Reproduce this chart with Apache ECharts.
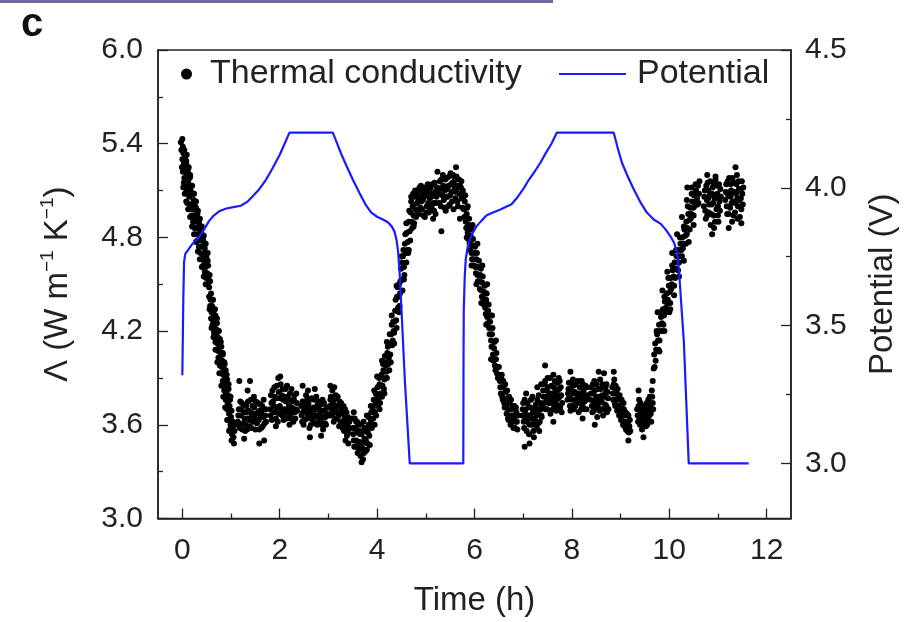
<!DOCTYPE html>
<html>
<head>
<meta charset="utf-8">
<script src="https://cdn.jsdelivr.net/npm/echarts@6/dist/echarts.min.js"></script>
<style>
  html, body { margin: 0; padding: 0; background: #fff; }
  #chart { width: 916px; height: 622px; }
</style>
</head>
<body>
<div id="chart"></div>
<script>
  // thermal conductivity, [time h, W m-1 K-1]
  const fallA = [[-0.03,5.41],[-0.02,5.36],[0.00,5.43],[0.00,5.30],[0.01,5.22],[0.02,5.34],[0.03,5.27],[0.04,5.18],[0.05,5.31],[0.06,5.24],[0.07,5.14],[0.08,5.27],[0.09,5.20],[0.10,5.10],[0.11,5.22],[0.12,5.15],[0.14,5.06],[0.15,5.18],[0.17,5.10],[0.18,5.01],[0.20,5.08],[0.21,4.98],[0.23,5.04],[0.24,4.93],[0.26,5.00],[0.27,4.90],[0.29,4.96],[0.30,4.86],[0.32,4.92],[0.33,4.82],[0.35,4.88],[0.36,4.78],[0.38,4.84],[0.39,4.74],[0.41,4.79],[0.42,4.69],[0.44,4.75],[0.45,4.65],[0.47,4.70],[0.48,4.61],[0.50,4.66],[0.51,4.57],[0.53,4.62],[0.54,4.53],[0.56,4.56],[0.02,5.12],[0.13,5.25],
    [-0.01,5.25],[0.01,5.38],[0.03,5.15],[0.04,5.36],[0.05,5.08],[0.06,5.30],[0.08,5.12],[0.09,5.33],[0.10,5.02],[0.12,5.08],[0.13,4.98],[0.16,5.00],[0.16,5.20],[0.19,4.94],[0.19,5.13],[0.22,4.90],[0.22,5.08],[0.25,4.86],[0.25,5.03],[0.28,4.82],[0.28,4.99],[0.31,4.78],[0.31,4.95],[0.34,4.74],[0.34,4.90],[0.37,4.70],[0.37,4.86],[0.40,4.66],[0.40,4.82],[0.43,4.62],[0.43,4.78],[0.46,4.58],[0.46,4.73],[0.49,4.54],[0.49,4.68],[0.52,4.50],[0.52,4.65],[0.55,4.48],[0.57,4.52],
    [0.08,5.29],[0.12,5.24],[0.16,5.19],[0.20,5.13],[0.24,5.08],[0.28,5.03],[0.32,4.97],[0.36,4.92],[0.40,4.87],[0.44,4.81],[0.48,4.76],[0.52,4.70],[0.08,5.03],[0.12,4.98],[0.16,4.93],[0.20,4.87],[0.24,4.82],[0.28,4.77],[0.32,4.71],[0.36,4.66],[0.40,4.61],[0.44,4.55],[0.48,4.50]];
  const fallB = [[0.55,4.42],[0.57,4.36],[0.58,4.40],[0.60,4.32],[0.61,4.36],[0.63,4.27],[0.64,4.31],[0.66,4.22],[0.67,4.26],[0.69,4.17],[0.70,4.21],[0.72,4.12],[0.73,4.16],[0.75,4.07],[0.76,4.11],[0.78,4.02],[0.79,4.06],[0.81,3.97],[0.82,4.01],[0.84,3.92],[0.85,3.96],[0.87,3.86],[0.88,3.91],[0.90,3.80],[0.91,3.85],[0.93,3.74],[0.94,3.79],[0.96,3.67],[0.97,3.72],[0.99,3.60],[1.00,3.65],[1.02,3.54],[1.03,3.58],[1.05,3.52],[1.07,3.56],[1.09,3.60],
    [0.56,4.34],[0.59,4.28],[0.59,4.44],[0.62,4.24],[0.62,4.40],[0.65,4.19],[0.65,4.34],[0.68,4.13],[0.68,4.30],[0.71,4.08],[0.71,4.25],[0.74,4.03],[0.74,4.20],[0.77,3.98],[0.77,4.15],[0.80,3.93],[0.80,4.10],[0.83,3.88],[0.83,4.05],[0.86,3.82],[0.86,4.00],[0.89,3.76],[0.89,3.95],[0.92,3.70],[0.92,3.89],[0.95,3.63],[0.95,3.83],[0.98,3.57],[0.98,3.76],[1.01,3.50],[1.01,3.69],[1.04,3.62],[1.06,3.48],
    [0.60,4.22],[0.64,4.16],[0.68,4.08],[0.72,4.00],[0.76,3.93],[0.80,3.85],[0.84,3.78],[0.88,3.71],[0.92,3.63],[0.96,3.56],[0.63,4.40],[0.67,4.34],[0.71,4.28],[0.75,4.20],[0.79,4.13],[0.83,4.06],[0.87,3.99],[0.91,3.92],[0.95,3.86],[0.99,3.78]];
  const lowA = [
    [1.14,3.62],[1.16,3.70],[1.18,3.58],[1.20,3.66],[1.22,3.74],[1.25,3.61],[1.27,3.68],[1.29,3.56],[1.31,3.72],[1.34,3.64],[1.36,3.69],[1.38,3.59],[1.41,3.76],[1.43,3.66],[1.45,3.62],[1.48,3.71],[1.50,3.57],[1.52,3.67],[1.55,3.74],[1.57,3.63],[1.59,3.69],[1.62,3.58],[1.64,3.72],[1.66,3.65],[1.69,3.61],[1.71,3.70],[1.19,3.75],[1.33,3.57],[1.47,3.78],[1.61,3.66],
    [1.15,3.66],[1.17,3.60],[1.21,3.70],[1.23,3.57],[1.26,3.73],[1.28,3.64],[1.30,3.60],[1.32,3.68],[1.35,3.75],[1.37,3.63],[1.40,3.68],[1.42,3.58],[1.44,3.72],[1.46,3.67],[1.49,3.64],[1.51,3.75],[1.53,3.61],[1.56,3.68],[1.58,3.57],[1.60,3.73],[1.63,3.69],[1.65,3.59],[1.67,3.76],[1.70,3.66],[1.72,3.62],
    [1.17,3.88],[1.34,3.82],[1.39,3.88],[1.27,3.51],[1.58,3.48],[1.68,3.50],
    [1.80,3.70],[1.82,3.79],[1.84,3.63],[1.86,3.75],[1.89,3.84],[1.91,3.68],[1.93,3.77],[1.96,3.62],[1.98,3.81],[2.00,3.72],[2.02,3.86],[2.05,3.66],[2.07,3.76],[2.09,3.70],[2.12,3.83],[2.14,3.64],[2.16,3.78],[2.19,3.72],[2.21,3.80],[2.23,3.67],[2.26,3.75],[2.28,3.62],[2.30,3.79],[2.33,3.70],[2.35,3.74],[1.88,3.72],[2.04,3.79],[2.18,3.66],[2.31,3.68],
    [1.81,3.66],[1.83,3.74],[1.85,3.82],[1.87,3.68],[1.90,3.78],[1.92,3.64],[1.94,3.85],[1.95,3.71],[1.99,3.67],[2.01,3.77],[2.03,3.70],[2.06,3.83],[2.08,3.63],[2.10,3.78],[2.11,3.68],[2.13,3.75],[2.15,3.85],[2.17,3.70],[2.20,3.76],[2.22,3.64],[2.24,3.83],[2.25,3.71],[2.27,3.68],[2.29,3.76],[2.32,3.64],[2.34,3.80],[2.36,3.69],
    [1.97,3.90],[2.01,3.91],[1.92,3.59],[2.20,3.60],
    [2.45,3.66],[2.47,3.75],[2.49,3.60],[2.52,3.71],[2.54,3.79],[2.56,3.64],[2.59,3.73],[2.61,3.58],[2.63,3.68],[2.66,3.77],[2.68,3.62],[2.70,3.71],[2.73,3.66],[2.75,3.78],[2.77,3.60],[2.80,3.70],[2.82,3.75],[2.84,3.63],[2.87,3.69],[2.89,3.57],[2.91,3.74],[2.94,3.65],[2.96,3.71],[2.50,3.69],[2.65,3.64],[2.79,3.66],[2.93,3.61],
    [2.44,3.72],[2.46,3.62],[2.48,3.68],[2.51,3.63],[2.53,3.74],[2.55,3.69],[2.57,3.77],[2.58,3.66],[2.60,3.70],[2.62,3.76],[2.64,3.60],[2.67,3.70],[2.69,3.67],[2.71,3.76],[2.72,3.61],[2.74,3.70],[2.76,3.65],[2.78,3.73],[2.81,3.62],[2.83,3.68],[2.85,3.73],[2.86,3.60],[2.88,3.76],[2.90,3.65],[2.92,3.69],[2.95,3.60],[2.97,3.67],
    [2.47,3.85],[2.58,3.82],[2.72,3.83],[2.62,3.52],[2.85,3.53],
    [3.03,3.72],[3.05,3.78],[3.07,3.66],[3.09,3.74],[3.11,3.62],[3.13,3.70],[3.15,3.79],[3.18,3.64],[3.20,3.72],[3.22,3.59],[3.24,3.68],[3.26,3.74],[3.28,3.61],[3.30,3.67],[3.32,3.56],[3.34,3.70],[3.36,3.62],[3.38,3.53],[3.40,3.65],[3.42,3.58],[3.12,3.84],[3.35,3.50],[3.17,3.68],
    [3.02,3.66],[3.04,3.76],[3.06,3.70],[3.08,3.82],[3.10,3.68],[3.12,3.76],[3.14,3.64],[3.16,3.72],[3.19,3.78],[3.21,3.66],[3.23,3.75],[3.25,3.62],[3.27,3.70],[3.29,3.58],[3.31,3.72],[3.33,3.64],[3.35,3.58],[3.37,3.68],[3.39,3.60],[3.41,3.55],[3.43,3.62],
    [3.04,3.85],[3.41,3.48],
    [3.50,3.58],[3.52,3.50],[3.54,3.64],[3.56,3.46],[3.58,3.55],[3.60,3.42],[3.62,3.60],[3.64,3.49],[3.66,3.40],[3.68,3.54],[3.70,3.45],[3.72,3.62],[3.74,3.51],[3.76,3.43],[3.78,3.57],[3.80,3.48],[3.82,3.65],[3.84,3.53],[3.86,3.60],[3.88,3.68],[3.63,3.56],[3.71,3.38],[3.57,3.62],[3.79,3.66],
    [3.49,3.64],[3.51,3.54],[3.53,3.46],[3.55,3.58],[3.57,3.50],[3.59,3.62],[3.61,3.47],[3.63,3.44],[3.65,3.54],[3.67,3.60],[3.69,3.48],[3.71,3.56],[3.73,3.42],[3.75,3.58],[3.77,3.50],[3.79,3.44],[3.81,3.55],[3.83,3.60],[3.85,3.47],[3.87,3.63],[3.89,3.58],
    [3.52,3.68],[3.68,3.36],[3.87,3.72]
  ];
  const riseA = [[3.91,3.70],[3.93,3.76],[3.95,3.68],[3.97,3.80],[3.99,3.74],[4.01,3.84],[4.03,3.77],[4.05,3.86],[4.07,3.80],[4.09,3.92],[4.11,3.85],[4.13,3.95],[4.15,3.89],[4.17,4.00],[4.19,3.94],[4.21,4.06],[4.23,3.99],[4.25,4.12],[4.27,4.05],[4.29,4.18],[4.31,4.11],[4.33,4.26],[4.35,4.19],[4.37,4.33],[4.39,4.27],[4.41,4.42],[4.43,4.35],[4.45,4.50],[4.47,4.44],[4.49,4.60],[4.51,4.53],[4.53,4.68],[4.55,4.61],[4.57,4.76],[4.59,4.70],[4.61,4.83],[4.63,4.77],[4.65,4.90],[4.67,4.84],[4.69,4.96],[4.71,4.90],[4.73,5.00],[4.75,4.94],[4.77,5.06],[4.79,4.98],[4.02,3.72],[4.18,3.90],[4.34,4.20],[4.48,4.52],[4.62,4.72],
    [3.92,3.64],[3.94,3.82],[3.96,3.73],[3.98,3.66],[4.00,3.79],[4.04,3.90],[4.06,3.74],[4.08,3.85],[4.10,3.78],[4.12,3.99],[4.14,3.83],[4.16,4.04],[4.18,3.98],[4.20,3.90],[4.22,4.10],[4.24,4.03],[4.26,4.18],[4.28,4.00],[4.30,4.24],[4.32,4.14],[4.36,4.26],[4.38,4.40],[4.40,4.22],[4.42,4.48],[4.44,4.42],[4.46,4.36],[4.50,4.64],[4.52,4.46],[4.54,4.72],[4.56,4.56],[4.58,4.82],[4.60,4.64],[4.64,4.70],[4.66,4.97],[4.68,4.78],[4.70,5.03],[4.72,4.86],[4.74,5.08],[4.76,4.89],[4.78,5.10],[4.80,4.93],
    [3.95,3.60],[4.05,3.70],[4.15,3.80],[4.25,3.95],[4.35,4.12],[4.45,4.32],[4.55,4.53],[4.65,4.72],[4.75,4.87],[4.00,3.91],[4.10,4.01],[4.20,4.13],[4.30,4.30],[4.40,4.49],[4.50,4.68],[4.60,4.89],[4.70,5.06]];
  const highA = [
    [4.82,5.02],[4.84,5.10],[4.86,4.95],[4.88,5.06],[4.90,5.13],[4.92,4.98],[4.94,5.04],[4.96,5.11],[4.98,4.93],[5.00,5.07],[5.02,5.00],[5.04,5.14],[5.06,4.96],[5.08,5.05],[5.10,5.12],[5.12,4.99],[5.14,5.08],[5.16,5.02],[5.18,5.15],[5.20,4.95],[5.22,5.06],[4.91,5.03],[5.05,5.02],[5.15,4.92],
    [4.81,5.08],[4.83,4.96],[4.85,5.04],[4.87,5.12],[4.89,4.99],[4.93,5.09],[4.95,4.94],[4.97,5.06],[4.99,5.12],[5.01,4.96],[5.03,5.09],[5.07,5.11],[5.09,4.97],[5.11,5.06],[5.13,5.14],[5.17,4.97],[5.19,5.09],[5.21,5.02],[5.23,5.12],
    [5.27,5.08],[5.29,5.16],[5.31,5.00],[5.33,5.12],[5.35,5.20],[5.37,5.04],[5.39,5.10],[5.41,4.97],[5.43,5.18],[5.45,5.06],[5.47,5.13],[5.49,5.01],[5.51,5.21],[5.53,5.09],[5.55,5.15],[5.57,4.98],[5.59,5.11],[5.61,5.05],[5.63,5.19],[5.65,5.03],[5.67,5.12],[5.69,5.08],[5.34,5.07],[5.58,5.14],
    [5.28,5.02],[5.30,5.11],[5.32,5.17],[5.36,5.13],[5.38,4.99],[5.40,5.17],[5.42,5.06],[5.44,5.11],[5.46,5.00],[5.48,5.19],[5.50,5.07],[5.52,5.14],[5.54,5.03],[5.56,5.20],[5.60,5.17],[5.62,5.09],[5.64,5.13],[5.66,5.00],[5.68,5.17],[5.70,5.13],
    [5.32,4.84],[5.24,5.22],[5.62,5.25],[5.70,4.92]
  ];
  const fallC = [[5.72,5.12],[5.74,5.05],[5.76,5.10],[5.78,4.98],[5.80,5.03],[5.82,4.90],[5.84,4.95],[5.86,4.83],[5.88,4.88],[5.90,4.76],[5.92,4.81],[5.94,4.70],[5.96,4.75],[5.98,4.66],[6.00,4.70],[6.02,4.61],[6.04,4.66],[6.06,4.56],[6.08,4.61],[6.10,4.52],[6.12,4.56],[6.14,4.46],[6.16,4.51],[6.18,4.41],[6.20,4.45],[6.22,4.35],[6.24,4.40],[6.26,4.29],[6.28,4.33],[6.30,4.22],[6.32,4.26],[6.34,4.14],[6.36,4.18],[6.38,4.05],[6.40,4.09],[6.42,3.98],[6.44,4.02],[6.46,3.93],
    [5.73,5.16],[5.75,4.99],[5.77,5.06],[5.79,4.93],[5.81,5.07],[5.83,4.86],[5.85,4.99],[5.87,4.79],[5.89,4.92],[5.91,4.72],[5.93,4.85],[5.95,4.66],[5.97,4.79],[5.99,4.62],[6.01,4.74],[6.03,4.57],[6.05,4.70],[6.07,4.52],[6.09,4.65],[6.11,4.47],[6.13,4.60],[6.15,4.42],[6.17,4.55],[6.19,4.37],[6.21,4.49],[6.23,4.31],[6.25,4.44],[6.27,4.25],[6.29,4.37],[6.31,4.18],[6.33,4.30],[6.35,4.10],[6.37,4.22],[6.39,4.01],[6.41,4.13],[6.43,3.95],[6.45,4.06],[6.48,3.90],[6.50,3.97],
    [5.84,4.80],[5.94,4.62],[6.04,4.50],[6.14,4.38],[6.24,4.24],[6.34,4.02],[5.86,5.00],[5.96,4.88],[6.06,4.76],[6.16,4.62],[6.26,4.50],[6.36,4.30],[6.44,4.14]];
  const lowB = [
    [6.52,3.88],[6.54,3.80],[6.56,3.92],[6.58,3.76],[6.60,3.85],[6.62,3.71],[6.64,3.81],[6.66,3.67],[6.68,3.77],[6.70,3.63],[6.72,3.74],[6.74,3.60],[6.76,3.70],[6.78,3.66],[6.80,3.58],[6.82,3.72],[6.84,3.62],[6.86,3.68],[6.88,3.57],[6.57,3.84],[6.69,3.70],[6.83,3.66],
    [6.53,3.84],[6.55,3.90],[6.57,3.78],[6.59,3.88],[6.61,3.74],[6.63,3.86],[6.65,3.72],[6.67,3.82],[6.69,3.64],[6.71,3.78],[6.73,3.66],[6.75,3.76],[6.77,3.62],[6.79,3.72],[6.81,3.64],[6.83,3.58],[6.85,3.71],[6.87,3.62],[6.89,3.66],
    [6.98,3.66],[7.00,3.74],[7.02,3.58],[7.04,3.69],[7.06,3.80],[7.08,3.62],[7.10,3.71],[7.12,3.54],[7.14,3.66],[7.16,3.76],[7.18,3.60],[7.20,3.68],[7.22,3.52],[7.24,3.64],[7.26,3.73],[7.28,3.58],[7.30,3.67],[7.32,3.79],[7.34,3.62],[7.36,3.70],[7.38,3.65],[7.07,3.66],[7.21,3.61],[7.33,3.70],
    [6.99,3.70],[7.01,3.62],[7.03,3.76],[7.05,3.64],[7.07,3.56],[7.09,3.74],[7.11,3.66],[7.13,3.60],[7.15,3.71],[7.17,3.64],[7.19,3.78],[7.21,3.56],[7.23,3.70],[7.25,3.60],[7.27,3.66],[7.29,3.76],[7.31,3.61],[7.33,3.56],[7.35,3.74],[7.37,3.66],[7.39,3.72],
    [7.03,3.46],[7.13,3.48],[7.29,3.84],[7.37,3.86],
    [7.42,3.78],[7.44,3.86],[7.46,3.70],[7.48,3.82],[7.50,3.90],[7.52,3.74],[7.54,3.80],[7.56,3.67],[7.58,3.85],[7.60,3.76],[7.62,3.92],[7.64,3.72],[7.66,3.81],[7.68,3.69],[7.70,3.87],[7.72,3.77],[7.74,3.83],[7.76,3.71],[7.78,3.79],[7.80,3.74],[7.49,3.76],[7.63,3.84],[7.75,3.88],
    [7.41,3.82],[7.43,3.74],[7.45,3.88],[7.47,3.78],[7.49,3.70],[7.51,3.84],[7.53,3.78],[7.55,3.90],[7.57,3.74],[7.59,3.80],[7.61,3.70],[7.63,3.78],[7.65,3.88],[7.67,3.75],[7.69,3.80],[7.71,3.72],[7.73,3.90],[7.75,3.78],[7.77,3.84],[7.79,3.68],
    [7.45,3.98],[7.62,3.62],
    [7.92,3.80],[7.94,3.87],[7.96,3.72],[7.98,3.83],[8.00,3.76],[8.02,3.89],[8.04,3.70],[8.06,3.81],[8.08,3.86],[8.10,3.74],[8.12,3.79],[8.14,3.68],[8.16,3.84],[8.18,3.77],[8.20,3.88],[8.22,3.72],[8.24,3.82],[8.26,3.75],[8.28,3.85],[8.30,3.70],[8.32,3.79],[8.03,3.80],[8.17,3.74],
    [7.91,3.76],[7.93,3.83],[7.95,3.78],[7.97,3.69],[7.99,3.87],[8.01,3.72],[8.03,3.85],[8.05,3.76],[8.07,3.72],[8.09,3.80],[8.11,3.88],[8.13,3.76],[8.15,3.80],[8.17,3.88],[8.19,3.70],[8.21,3.80],[8.23,3.86],[8.25,3.70],[8.27,3.79],[8.29,3.76],[8.31,3.84],
    [7.97,3.94],[8.22,3.64],
    [8.38,3.76],[8.40,3.84],[8.42,3.68],[8.44,3.80],[8.46,3.88],[8.48,3.72],[8.50,3.78],[8.52,3.65],[8.54,3.83],[8.56,3.74],[8.58,3.89],[8.60,3.70],[8.62,3.79],[8.64,3.66],[8.66,3.85],[8.68,3.73],[8.70,3.81],[8.72,3.68],[8.74,3.77],[8.45,3.75],[8.59,3.77],[8.71,3.86],
    [8.39,3.80],[8.41,3.72],[8.43,3.86],[8.45,3.69],[8.47,3.82],[8.49,3.76],[8.51,3.86],[8.53,3.71],[8.55,3.78],[8.57,3.69],[8.59,3.83],[8.61,3.75],[8.63,3.86],[8.65,3.70],[8.67,3.78],[8.69,3.84],[8.71,3.72],[8.73,3.81],[8.75,3.70],
    [8.47,3.60],[8.66,3.93],[8.55,3.94],
    [8.83,3.84],[8.85,3.76],[8.87,3.89],[8.89,3.72],[8.91,3.82],[8.93,3.69],[8.95,3.79],[8.97,3.66],[8.99,3.76],[9.01,3.63],[9.03,3.73],[9.05,3.60],[9.07,3.70],[9.09,3.62],[9.11,3.57],[9.13,3.67],[9.15,3.60],[9.17,3.55],[9.19,3.63],[8.88,3.80],[8.98,3.71],[9.08,3.66],
    [8.84,3.80],[8.86,3.86],[8.88,3.74],[8.90,3.85],[8.92,3.76],[8.94,3.83],[8.96,3.72],[8.98,3.79],[9.00,3.68],[9.02,3.76],[9.04,3.66],[9.06,3.74],[9.08,3.59],[9.10,3.68],[9.12,3.62],[9.14,3.56],[9.16,3.66],[9.18,3.59],[9.20,3.56],
    [8.86,3.94],[9.16,3.50],
    [9.34,3.70],[9.36,3.62],[9.38,3.76],[9.40,3.60],[9.42,3.68],[9.44,3.57],[9.46,3.72],[9.48,3.63],[9.50,3.66],[9.52,3.59],[9.54,3.74],[9.56,3.64],[9.58,3.70],[9.60,3.78],[9.62,3.67],[9.64,3.82],[9.66,3.74],[9.45,3.66],[9.55,3.69],
    [9.35,3.66],[9.37,3.72],[9.39,3.64],[9.41,3.74],[9.43,3.62],[9.45,3.70],[9.47,3.60],[9.49,3.72],[9.51,3.62],[9.53,3.68],[9.55,3.60],[9.57,3.76],[9.59,3.66],[9.61,3.72],[9.63,3.62],[9.65,3.78],[9.67,3.70],
    [9.37,3.82],[9.47,3.52]
  ];
  const riseB = [[9.66,3.88],[9.68,3.96],[9.69,4.05],[9.71,4.12],[9.73,4.08],[9.75,4.18],[9.77,4.14],[9.79,4.24],[9.81,4.20],[9.83,4.29],[9.85,4.25],[9.87,4.34],[9.89,4.30],[9.91,4.39],[9.93,4.35],[9.95,4.44],[9.97,4.40],[9.99,4.49],[10.01,4.45],[10.03,4.54],[10.05,4.50],[10.07,4.59],[10.09,4.55],[10.11,4.64],[10.13,4.60],[10.15,4.68],[10.17,4.64],[10.19,4.72],[10.21,4.68],[10.23,4.76],[10.25,4.72],[10.27,4.80],[10.29,4.76],[10.31,4.85],[10.33,4.81],[10.35,4.90],[10.37,4.86],[10.39,4.95],[10.41,4.91],[10.43,4.99],[10.45,4.95],[10.47,5.03],[10.49,4.99],[10.51,5.07],[10.53,5.02],[10.55,5.10],[10.57,5.05],[10.59,5.13],[10.61,5.08],[10.37,5.12],[10.02,4.34],
    [9.70,3.97],[9.74,4.20],[9.78,4.08],[9.82,4.32],[9.86,4.20],[9.90,4.42],[9.94,4.32],[9.98,4.54],[10.02,4.38],[10.06,4.62],[10.10,4.49],[10.14,4.72],[10.18,4.59],[10.22,4.80],[10.26,4.68],[10.30,4.87],[10.34,4.76],[10.38,5.00],[10.42,4.85],[10.46,5.08],[10.50,4.94],[10.54,5.14],[10.58,5.01],[10.62,5.16],[9.72,4.01],[9.80,4.14],[9.88,4.24],[9.96,4.38],[10.04,4.47],[10.12,4.54],[10.20,4.64],[10.28,4.73],[10.36,4.82],[10.44,4.92],[10.52,5.00],[10.60,5.02],
    [9.80,4.07],[9.90,4.20],[10.00,4.32],[10.10,4.43],[10.20,4.55],[10.30,4.65],[10.40,4.77],[10.50,4.88],[9.76,4.32],[9.86,4.46],[9.96,4.58],[10.06,4.70],[10.16,4.82],[10.26,4.93],[10.36,5.04],[10.46,5.12]];
  const highB = [
    [10.71,5.00],[10.73,5.10],[10.75,4.92],[10.77,5.04],[10.79,5.15],[10.81,4.96],[10.83,5.07],[10.85,4.88],[10.87,5.01],[10.89,5.12],[10.91,4.94],[10.93,5.05],[10.95,5.17],[10.97,4.98],[10.99,5.08],[11.01,4.90],[11.03,5.03],[11.05,5.11],[10.80,5.05],[10.92,4.86],[11.00,5.00],
    [10.72,5.06],[10.74,4.97],[10.76,5.13],[10.78,4.94],[10.80,5.10],[10.82,5.01],[10.84,5.16],[10.86,4.95],[10.88,5.08],[10.90,5.02],[10.92,5.14],[10.94,4.90],[10.96,5.06],[10.98,5.13],[11.00,4.94],[11.02,5.14],[11.04,4.97],[11.06,5.06],
    [10.78,5.20],[10.95,5.19],[10.88,4.82],
    [11.15,5.04],[11.17,5.14],[11.19,4.95],[11.21,5.07],[11.23,5.18],[11.25,4.99],[11.27,5.10],[11.29,4.90],[11.31,5.03],[11.33,5.15],[11.35,4.96],[11.37,5.08],[11.39,5.20],[11.41,5.00],[11.43,5.11],[11.45,4.93],[11.47,5.05],[11.49,5.16],[11.51,5.01],[11.26,5.06],[11.40,5.05],
    [11.16,5.09],[11.18,5.00],[11.20,5.16],[11.22,4.95],[11.24,5.08],[11.26,5.14],[11.28,5.02],[11.30,5.18],[11.32,4.94],[11.34,5.09],[11.36,5.02],[11.38,5.14],[11.40,4.92],[11.42,5.16],[11.44,5.04],[11.46,5.10],[11.48,4.98],[11.50,5.08],[11.52,5.12],
    [11.36,5.25],[11.22,4.86],[11.48,4.89]
  ];

  // potential, [time h, V]
  const potential = [
    [0.00,3.32],[0.02,3.60],[0.035,3.73],[0.06,3.76],[0.14,3.78],[0.20,3.795],[0.34,3.82],[0.45,3.85],[0.55,3.88],[0.65,3.90],[0.76,3.915],[0.90,3.925],[1.05,3.93],[1.20,3.935],[1.34,3.95],[1.45,3.97],[1.58,3.995],[1.72,4.03],[1.85,4.07],[2.00,4.12],[2.10,4.16],[2.20,4.20],
    [3.09,4.20],[3.18,4.16],[3.27,4.12],[3.37,4.08],[3.50,4.03],[3.64,3.98],[3.76,3.94],[3.88,3.91],[4.00,3.895],[4.12,3.885],[4.22,3.875],[4.30,3.86],[4.36,3.84],[4.40,3.81],[4.43,3.77],[4.46,3.70],[4.50,3.56],[4.57,3.30],[4.63,3.12],[4.67,3.00],
    [5.77,3.00],[5.775,3.40],[5.78,3.56],[5.80,3.68],[5.82,3.74],[5.86,3.785],[5.90,3.81],[5.96,3.835],[6.04,3.86],[6.14,3.88],[6.25,3.90],[6.38,3.91],[6.52,3.92],[6.64,3.93],[6.76,3.94],[6.88,3.965],[7.00,3.995],[7.12,4.03],[7.24,4.06],[7.35,4.09],[7.46,4.125],[7.58,4.16],[7.69,4.20],
    [8.86,4.20],[8.94,4.145],[9.03,4.09],[9.15,4.04],[9.27,3.995],[9.40,3.95],[9.54,3.91],[9.68,3.885],[9.82,3.87],[9.92,3.85],[10.02,3.825],[10.10,3.80],[10.16,3.765],[10.20,3.70],[10.23,3.62],[10.30,3.44],[10.35,3.22],[10.40,3.00],
    [11.63,3.00]
  ];

  // tick values
  const timeTicks = [0, 2, 4, 6, 8, 10, 12];
  const timeMinor = [1, 3, 5, 7, 9, 11];
  const voltTicks = [3.0, 3.5, 4.0, 4.5];
  const voltMinor = [3.25, 3.75, 4.25];

  const FONT = '"Liberation Sans", Arial, Helvetica, sans-serif';
  const INK = '#222';
  const BLUE = '#1a1aff';

  const conductivity = [].concat(fallA, fallB, lowA, riseA, highA, fallC, lowB, riseB, highB);

  const chart = echarts.init(document.getElementById('chart'), null, { renderer: 'canvas' });

  const tickLine = { color: INK, width: 1.3 };

  const option = {
    animation: false,
    backgroundColor: '#fff',
    textStyle: { fontFamily: FONT, color: INK },
    graphic: [
      { type: 'rect', left: 0, top: 0, shape: { width: 553, height: 3 }, style: { fill: '#6b6b99' } },
      { type: 'text', left: 21, top: 5, style: { text: 'c', font: 'bold 40px ' + FONT, fill: '#111' } }
    ],
    grid: {
      left: 158, right: 125, top: 50, bottom: 103.5,
      show: true, borderColor: INK, borderWidth: 1.5, backgroundColor: 'transparent',
      outerBoundsMode: 'none'
    },
    legend: [
      {
        data: ['Thermal conductivity'], left: 181, top: 57, padding: 0,
        icon: 'circle', itemWidth: 11, itemHeight: 11, selectedMode: false,
        itemStyle: { opacity: 1 },
        textStyle: { fontSize: 34, color: INK, fontFamily: FONT, padding: [0, 0, 0, 13] }
      },
      {
        data: ['Potential'], left: 559, top: 57, padding: 0,
        icon: 'rect', itemWidth: 67, itemHeight: 2, selectedMode: false,
        textStyle: { fontSize: 34, color: INK, fontFamily: FONT, padding: [0, 0, 0, 6] }
      }
    ],
    xAxis: [
      {
        type: 'value', position: 'bottom', min: -0.5, max: 12.5,
        name: 'Time (h)', nameLocation: 'middle', nameGap: 66,
        nameTextStyle: { fontSize: 33, color: INK, fontFamily: FONT },
        axisLine: { show: true, onZero: false, lineStyle: { color: INK, width: 1.5 } },
        axisTick: { show: true, inside: true, length: 10, lineStyle: tickLine, customValues: timeTicks },
        axisLabel: { fontSize: 30, color: INK, margin: 17, customValues: timeTicks },
        splitLine: { show: false }
      },
      {
        type: 'value', position: 'bottom', min: -0.5, max: 12.5,
        axisLine: { show: false, onZero: false },
        axisTick: { show: true, inside: true, length: 5, lineStyle: tickLine, customValues: timeMinor },
        axisLabel: { show: false },
        splitLine: { show: false }
      }
    ],
    yAxis: [
      {
        type: 'value', position: 'left', min: 3.0, max: 6.0, interval: 0.6,
        name: '{a|Λ (W m}{s|−1}{a| K}{s|−1}{a|)}', nameLocation: 'middle', nameGap: 80,
        nameTextStyle: {
          rich: {
            a: { fontSize: 33, lineHeight: 40, color: INK, fontFamily: FONT, verticalAlign: 'middle' },
            s: { fontSize: 19, lineHeight: 18, color: INK, fontFamily: FONT, verticalAlign: 'top' }
          }
        },
        axisLine: { show: true, onZero: false, lineStyle: { color: INK, width: 1.5 } },
        axisTick: { show: true, inside: true, length: 10, lineStyle: tickLine },
        minorTick: { show: true, splitNumber: 2, length: 5, lineStyle: tickLine },
        axisLabel: { fontSize: 30, color: INK, margin: 15, formatter: v => v.toFixed(1) },
        splitLine: { show: false }
      },
      {
        type: 'value', position: 'right', min: 2.8, max: 4.5,
        name: 'Potential (V)', nameLocation: 'middle', nameGap: 75,
        nameTextStyle: { fontSize: 33, color: INK, fontFamily: FONT },
        axisLine: { show: true, onZero: false, lineStyle: { color: INK, width: 1.5 } },
        axisTick: { show: true, inside: true, length: 10, lineStyle: tickLine, customValues: voltTicks },
        axisLabel: { fontSize: 30, color: INK, margin: 14, customValues: voltTicks, formatter: v => v.toFixed(1) },
        splitLine: { show: false }
      },
      {
        type: 'value', position: 'right', min: 2.8, max: 4.5,
        axisLine: { show: false, onZero: false },
        axisTick: { show: true, inside: true, length: 5, lineStyle: tickLine, customValues: voltMinor },
        axisLabel: { show: false },
        splitLine: { show: false }
      }
    ],
    series: [
      {
        name: 'Thermal conductivity', type: 'scatter', xAxisIndex: 0, yAxisIndex: 0,
        data: conductivity, symbol: 'circle', symbolSize: 6,
        itemStyle: { color: '#000', opacity: 1 }, emphasis: { disabled: true }, silent: true
      },
      {
        name: 'Potential', type: 'line', xAxisIndex: 0, yAxisIndex: 1,
        data: potential, showSymbol: false, symbol: 'none',
        lineStyle: { color: BLUE, width: 2.2 }, itemStyle: { color: BLUE },
        emphasis: { disabled: true }, silent: true
      }
    ]
  };

  chart.setOption(option);
</script>
</body>
</html>
